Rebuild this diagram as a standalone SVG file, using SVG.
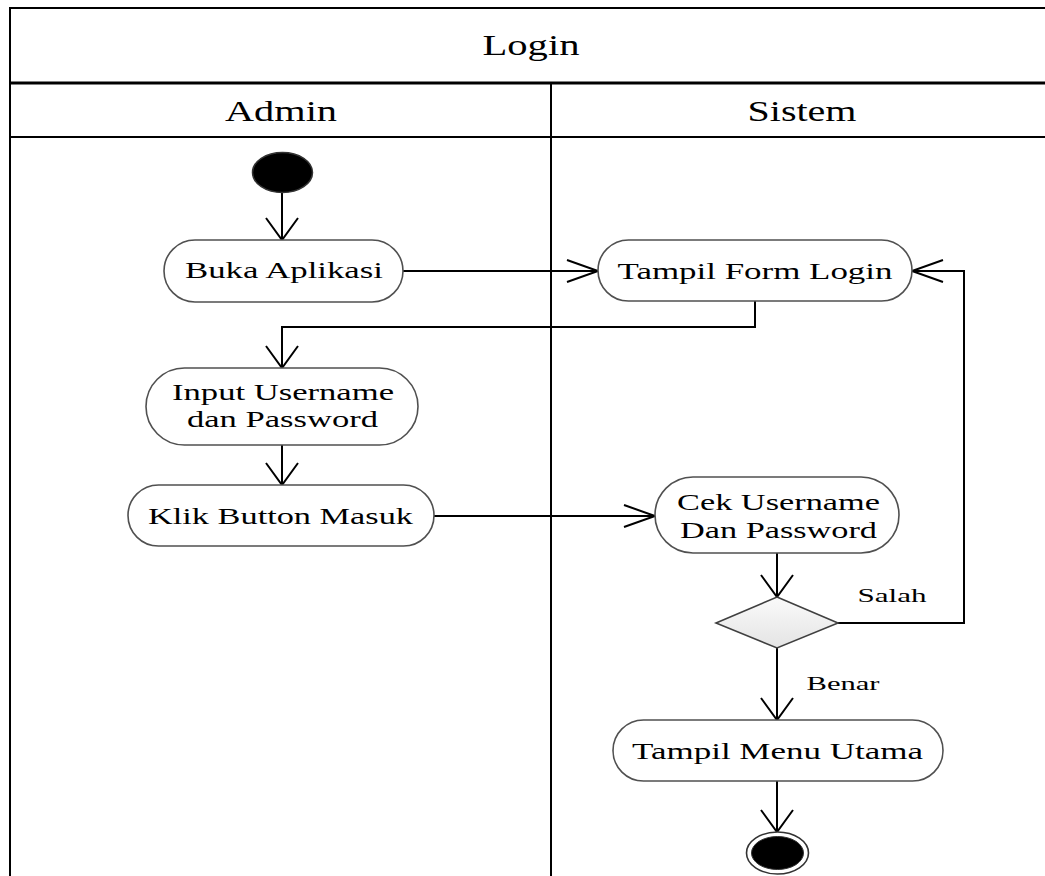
<svg xmlns="http://www.w3.org/2000/svg" width="1045" height="876" viewBox="0 0 1045 876">
  <style>
    .frame { fill: none; stroke: #000; stroke-width: 2; }
    .act { fill: #fff; stroke: #505050; stroke-width: 1.6; }
    .flow { fill: none; stroke: #000; stroke-width: 2; }
    .t { font-family: "Liberation Serif", "Times New Roman", serif; fill: #000; text-anchor: middle; }
    .title { font-size: 29px; }
    .node { font-size: 24px; }
    .guard { font-size: 19px; }
  </style>
  <defs>
    <!-- open arrowheads: vertical flows are narrower-longer than horizontal ones -->
    <marker id="arrV" markerUnits="userSpaceOnUse" markerWidth="24" markerHeight="34" refX="22" refY="16" orient="auto" overflow="visible">
      <path d="M0,0 L22,16 L0,32" fill="none" stroke="#000" stroke-width="2"/>
    </marker>
    <marker id="arrH" markerUnits="userSpaceOnUse" markerWidth="33" markerHeight="24" refX="31" refY="11" orient="auto" overflow="visible">
      <path d="M0,0 L31,11 L0,22" fill="none" stroke="#000" stroke-width="2"/>
    </marker>
    <linearGradient id="decFill" x1="0" y1="0" x2="0" y2="1">
      <stop offset="0" stop-color="#fafafa"/>
      <stop offset="1" stop-color="#e4e4e4"/>
    </linearGradient>
  </defs>

  <!-- swimlane frame -->
  <g id="swimlanes">
    <rect x="0" y="0" width="1045" height="876" fill="#fff"/>
    <path class="frame" d="M10,876 V8 H1046"/>
    <line x1="10" y1="83" x2="1046" y2="83" stroke="#000" stroke-width="3"/>
    <line x1="10" y1="137" x2="1046" y2="137" class="frame"/>
    <line x1="551" y1="83" x2="551" y2="876" class="frame"/>
    <text class="t title" x="531" y="55" textLength="97" lengthAdjust="spacingAndGlyphs">Login</text>
    <text class="t title" x="281" y="121" textLength="112" lengthAdjust="spacingAndGlyphs">Admin</text>
    <text class="t title" x="802" y="121" textLength="109" lengthAdjust="spacingAndGlyphs">Sistem</text>
  </g>

  <!-- control flows -->
  <g id="connectors">
    <path class="flow" d="M282,193 V240" marker-end="url(#arrV)"/>
    <path class="flow" d="M403,271 H598" marker-end="url(#arrH)"/>
    <path class="flow" d="M755,301 V327 H282 V368" marker-end="url(#arrV)"/>
    <path class="flow" d="M282,445 V485" marker-end="url(#arrV)"/>
    <path class="flow" d="M434,516 H655" marker-end="url(#arrH)"/>
    <path class="flow" d="M777,553 V597" marker-end="url(#arrV)"/>
    <path class="flow" d="M838,623 H964 V271 H912" marker-end="url(#arrH)"/>
    <path class="flow" d="M777,648 V720" marker-end="url(#arrV)"/>
    <path class="flow" d="M777,781 V832" marker-end="url(#arrV)"/>
    <text class="t guard" x="892" y="602" textLength="69" lengthAdjust="spacingAndGlyphs">Salah</text>
    <text class="t guard" x="843" y="690" textLength="73" lengthAdjust="spacingAndGlyphs">Benar</text>
  </g>

  <g id="start">
    <ellipse cx="282.5" cy="172.5" rx="30" ry="20" fill="#000" stroke="#333" stroke-width="1.5"/>
  </g>

  <g id="buka-aplikasi">
    <rect class="act" x="164" y="240" width="239" height="62" rx="31" ry="31"/>
    <text class="t node" x="284" y="278" textLength="198" lengthAdjust="spacingAndGlyphs">Buka Aplikasi</text>
  </g>

  <g id="tampil-form-login">
    <rect class="act" x="598" y="240" width="314" height="61" rx="30.5" ry="30.5"/>
    <text class="t node" x="755" y="279" textLength="275" lengthAdjust="spacingAndGlyphs">Tampil Form Login</text>
  </g>

  <g id="input-username">
    <rect class="act" x="146" y="368" width="272" height="77" rx="38.5" ry="38.5"/>
    <text class="t node" x="283" y="400" textLength="222" lengthAdjust="spacingAndGlyphs">Input Username</text>
    <text class="t node" x="282.5" y="427" textLength="191" lengthAdjust="spacingAndGlyphs">dan Password</text>
  </g>

  <g id="klik-button-masuk">
    <rect class="act" x="128" y="485" width="306" height="61" rx="30.5" ry="30.5"/>
    <text class="t node" x="280.5" y="524" textLength="265" lengthAdjust="spacingAndGlyphs">Klik Button Masuk</text>
  </g>

  <g id="cek-username">
    <rect class="act" x="655" y="477" width="244" height="76" rx="38" ry="38"/>
    <text class="t node" x="778.5" y="510" textLength="203" lengthAdjust="spacingAndGlyphs">Cek Username</text>
    <text class="t node" x="778.5" y="538" textLength="197" lengthAdjust="spacingAndGlyphs">Dan Password</text>
  </g>

  <g id="decision">
    <polygon points="777,597 838,623 777,648 716,623" fill="url(#decFill)" stroke="#404040" stroke-width="1.6"/>
  </g>

  <g id="tampil-menu-utama">
    <rect class="act" x="613" y="720" width="330" height="61" rx="30.5" ry="30.5"/>
    <text class="t node" x="777.5" y="759" textLength="291" lengthAdjust="spacingAndGlyphs">Tampil Menu Utama</text>
  </g>

  <g id="end">
    <ellipse cx="777.5" cy="853" rx="31" ry="21" fill="#fff" stroke="#333" stroke-width="1.6"/>
    <ellipse cx="777.5" cy="853" rx="26" ry="16.5" fill="#000" stroke="#333" stroke-width="1"/>
  </g>
</svg>
